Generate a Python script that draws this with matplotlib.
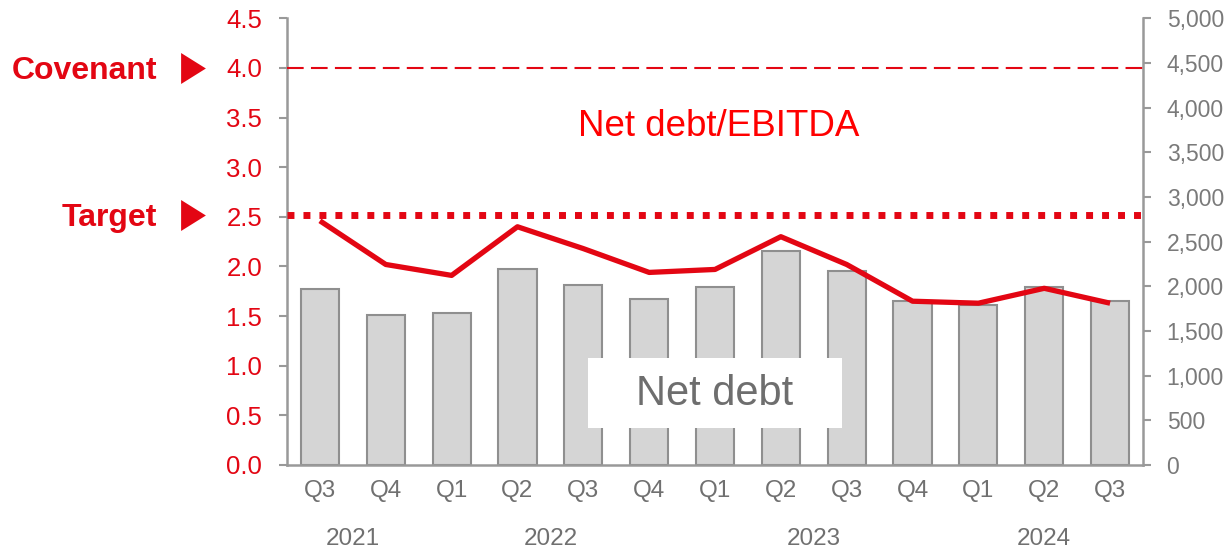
import numpy as np
import matplotlib
matplotlib.use("Agg")
import matplotlib.pyplot as plt
import matplotlib.transforms as mtrans
from matplotlib.lines import Line2D
from matplotlib.patches import Rectangle
from matplotlib.ticker import FuncFormatter

plt.rcParams['font.family'] = ['Liberation Sans', 'DejaVu Sans']

# ---- data ----
quarters = ["Q3", "Q4", "Q1", "Q2", "Q3", "Q4", "Q1", "Q2", "Q3", "Q4", "Q1", "Q2", "Q3"]
years = ["2021", "2022", "2023", "2024"]
quarters_per_year = [2, 4, 4, 3]
net_debt = [1970, 1679, 1701, 2194, 2011, 1858, 1989, 2395, 2171, 1836, 1794, 1992, 1836]
leverage = [2.46, 2.02, 1.91, 2.40, 2.18, 1.94, 1.97, 2.30, 2.02, 1.65, 1.63, 1.78, 1.63]
covenant = 4.0
target = 2.52
left_ticks = [0.0, 0.5, 1.0, 1.5, 2.0, 2.5, 3.0, 3.5, 4.0, 4.5]
right_ticks = [0, 500, 1000, 1500, 2000, 2500, 3000, 3500, 4000, 4500, 5000]

RED = '#E30613'
GRAY_TXT = '#707070'
GRAY_LINE = '#999999'

W, H = 1227, 549
fig = plt.figure(figsize=(W / 100, H / 100), dpi=100)
ax = fig.add_axes([287 / W, 1 - 465 / H, (1143 - 287) / W, (465 - 18.3) / H])
ax2 = ax.twinx()
ax.set_zorder(ax2.get_zorder() + 1)
ax.patch.set_visible(False)

x = np.arange(len(quarters))

# bars (right axis)
ax2.bar(x, net_debt, width=0.58, color='#D5D5D5', edgecolor='#8F8F8F', linewidth=1.5, zorder=2)
ax2.set_ylim(0, 5000)
ax2.set_yticks(right_ticks)
ax2.yaxis.set_major_formatter(FuncFormatter(lambda v, p: f"{int(v):,}"))
ax2.tick_params(axis='y', colors=GRAY_LINE, labelcolor='#7A7A7A', length=6, width=1.5,
                labelsize=16.5, pad=11)

# "Net debt" label box (right-axis units)
ax2.add_patch(Rectangle((4.07, 414), 3.86, 784, facecolor='white', edgecolor='none', zorder=3))
ax2.text(6.0, 790, "Net debt", ha='center', va='center', fontsize=30, color='#6E6E6E', zorder=4)

# line (left axis)
ax.set_xlim(-0.5, len(quarters) - 0.5)
ax.set_ylim(0, 4.5)
ax.plot(x, leverage, color=RED, lw=3.8, solid_capstyle='butt', zorder=5)
ax.axhline(covenant, color=RED, lw=1.5, dashes=(8, 3.5), zorder=4)
ax.axhline(target, color=RED, lw=5, dashes=(1, 1.3), dash_capstyle='butt', zorder=4)
ax.text(6.06, 3.41, "Net debt/EBITDA", ha='center', va='center', fontsize=26.5, color='#FF0000')

ax.set_yticks(left_ticks)
ax.yaxis.set_major_formatter(FuncFormatter(lambda v, p: f"{v:.1f}"))
ax.tick_params(axis='y', colors=GRAY_LINE, labelcolor=RED, length=6, width=1.5,
               labelsize=18.5, pad=12)
ax.set_xticks(x)
ax.set_xticklabels(quarters)
ax.tick_params(axis='x', length=0, pad=11, labelsize=17.5, labelcolor=GRAY_TXT)

# spines
for a in (ax, ax2):
    a.spines['top'].set_visible(False)
ax.spines['right'].set_visible(False)
ax2.spines['left'].set_visible(False)
ax2.spines['bottom'].set_visible(False)
for s in ('left', 'bottom'):
    ax.spines[s].set_color(GRAY_LINE)
    ax.spines[s].set_linewidth(1.8)
ax2.spines['right'].set_color(GRAY_LINE)
ax2.spines['right'].set_linewidth(1.8)

# year labels
start = 0
xtrans = ax.get_xaxis_transform()
for yr, n in zip(years, quarters_per_year):
    center = start + (n - 1) / 2
    ax.text(center, -0.165, yr, transform=xtrans, ha='center', va='center',
            fontsize=17.5, color=GRAY_TXT)
    start += n

# left annotations
blend = mtrans.blended_transform_factory(fig.transFigure, ax.transData)
for label, yv in (("Covenant", covenant), ("Target", target)):
    ax.text(157 / W, yv, label, transform=blend + mtrans.ScaledTranslation(0, -0.115, fig.dpi_scale_trans),
            ha='right', va='baseline', fontsize=23, fontweight='bold', color=RED)
    tri = Line2D([192.5 / W], [yv], transform=blend, marker=[(-0.8, -1), (0.8, 0), (-0.8, 1)],
                 markersize=22.3, color=RED, markeredgewidth=0, linestyle='none', clip_on=False)
    fig.add_artist(tri)

fig.savefig("out.png", dpi=100)
